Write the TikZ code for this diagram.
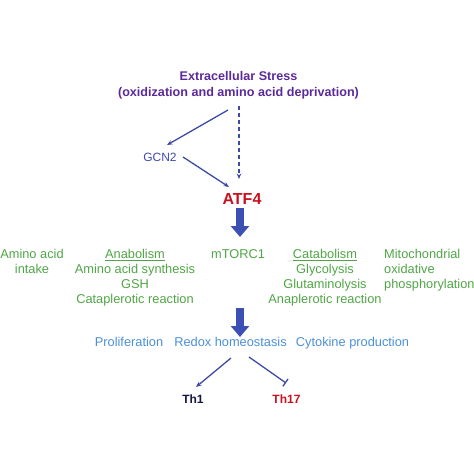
\documentclass[tikz,border=0pt]{standalone}
\usepackage{fontspec}
\setmainfont{Liberation Sans}
\usetikzlibrary{arrows.meta}
\definecolor{stresspurple}{RGB}{91,42,154}
\definecolor{arrowblue}{RGB}{62,75,166}
\definecolor{blockblue}{RGB}{60,80,180}
\definecolor{atfred}{RGB}{200,16,30}
\definecolor{metgreen}{RGB}{80,165,70}
\definecolor{lightblue}{RGB}{74,144,217}
\definecolor{thnavy}{RGB}{20,20,70}
\tikzset{
  txt/.style={inner sep=0pt, anchor=base},
  greentxt/.style={txt, text=metgreen, font=\fontsize{12.8}{15}\selectfont},
  bluetxt/.style={txt, text=lightblue, font=\fontsize{12.8}{15}\selectfont},
  conn/.style={draw=arrowblue, line width=1.3pt, -{Stealth[length=5.5pt,width=4.5pt]}},
  inhib/.style={draw=arrowblue, line width=1.3pt, -{Bar[width=9pt,line width=1.3pt]}},
  block/.style={draw=blockblue, fill=blockblue, line width=8pt, -{Triangle[length=11pt,width=18pt]}},
}
\begin{document}
\begin{tikzpicture}[x=1pt,y=-1pt]
\useasboundingbox (0,0) rectangle (474,474);
% texts (multi-line nodes: base = baseline of last line)
\node[txt, text=stresspurple, font=\bfseries\fontsize{12.6}{16}\selectfont, align=center] (stress) at (238.5,96.7)
  {Extracellular Stress\\(oxidization and amino acid deprivation)};
\node[txt, text=arrowblue, font=\fontsize{12}{14}\selectfont] (gcn2) at (160,161.7) {GCN2};
\node[txt, text=atfred, font=\bfseries\fontsize{16}{18}\selectfont] (atf4) at (242,204) {ATF4};
\node[greentxt, align=center] (intake) at (32,273.3) {Amino acid\\intake};
\node[greentxt, align=center] (anab) at (135,303.3) {\underline{Anabolism}\\Amino acid synthesis\\GSH\\Cataplerotic reaction};
\node[greentxt] (mtorc) at (238,258.3) {mTORC1};
\node[greentxt, align=center] (catab) at (325,303.3) {\underline{Catabolism}\\Glycolysis\\Glutaminolysis\\Anaplerotic reaction};
\node[greentxt, align=left, anchor=base west] (mito) at (384,288.3) {Mitochondrial\\oxidative\\phosphorylation};
\node[bluetxt] (prolif) at (129,346.7) {Proliferation};
\node[bluetxt] (redox) at (230.5,346.7) {Redox homeostasis};
\node[bluetxt] (cyto) at (352.5,346.7) {Cytokine production};
\node[txt, text=thnavy, font=\bfseries\fontsize{12}{14}\selectfont] (th1) at (193,403.3) {Th1};
\node[txt, text=atfred, font=\bfseries\fontsize{12}{14}\selectfont] (th17) at (286.5,403.3) {Th17};
% connector end points
\coordinate (s1) at (228,110);
\coordinate (g1) at (167,145);
\coordinate (s2) at (239,106);
\coordinate (a2) at (239,179);
\coordinate (g2) at (183,157);
\coordinate (a1) at (229,187);
\coordinate (b1s) at (240,208);
\coordinate (b1e) at (240,237);
\coordinate (b2s) at (240,308);
\coordinate (b2e) at (240,337);
\coordinate (r1) at (231,358);
\coordinate (t1) at (196,387);
\coordinate (r2) at (249,357);
\coordinate (t2) at (286,383);
% connectors
\draw[conn] (s1) -- (g1);
\draw[conn, dash pattern=on 4pt off 3pt] (s2) -- (a2);
\draw[conn] (g2) -- (a1);
\draw[block] (b1s) -- (b1e);
\draw[block] (b2s) -- (b2e);
\draw[conn] (r1) -- (t1);
\draw[inhib] (r2) -- (t2);
\end{tikzpicture}
\end{document}
